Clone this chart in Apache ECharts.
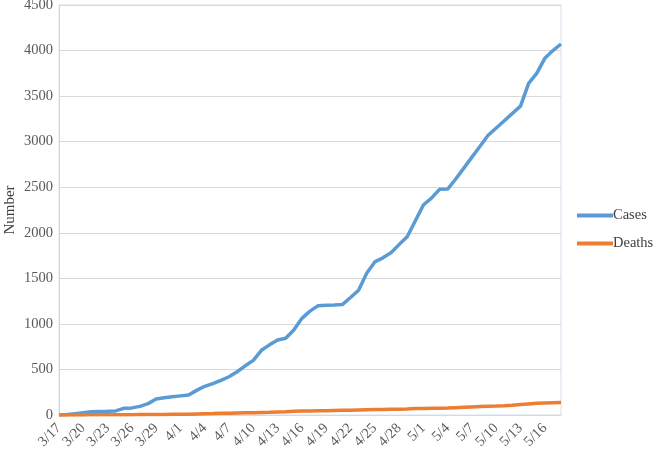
<!DOCTYPE html>
<html>
<head>
<meta charset="utf-8">
<script src="https://cdn.jsdelivr.net/npm/echarts@6/dist/echarts.min.js"></script>
<style>html,body{margin:0;padding:0;background:#fff;}#c{width:654px;height:452px;}</style>
</head>
<body>
<div id="c"></div>
<script>
var dates = ['3/17','3/18','3/19','3/20','3/21','3/22','3/23','3/24','3/25','3/26','3/27','3/28','3/29','3/30','3/31',
 '4/1','4/2','4/3','4/4','4/5','4/6','4/7','4/8','4/9','4/10','4/11','4/12','4/13','4/14','4/15','4/16','4/17','4/18','4/19','4/20','4/21','4/22','4/23','4/24','4/25','4/26','4/27','4/28','4/29','4/30',
 '5/1','5/2','5/3','5/4','5/5','5/6','5/7','5/8','5/9','5/10','5/11','5/12','5/13','5/14','5/15','5/16','5/17','5/18'];
var cases = [0,5,15,25,35,38,40,45,73,78,95,125,175,190,200,
 210,220,270,315,345,380,420,475,540,600,710,770,823,842,933,1061,1140,1200,1205,1208,1212,1290,1370,1555,1680,1725,1780,1870,1957,2130,
 2305,2380,2477,2480,2590,2710,2830,2950,3070,3150,3230,3310,3390,3640,3750,3915,4000,4072];
var deaths = [0,0,1,1,2,2,3,3,4,4,5,5,6,6,7,
 8,9,12,15,16,18,20,22,24,26,28,30,33,36,40,43,45,47,48,50,51,52,55,58,60,61,62,63,66,70,
 72,73,74,76,80,84,88,92,95,98,102,108,115,122,128,133,135,136];
var yTicks = {min: 0, max: 4500, step: 500};

var chart = echarts.init(document.getElementById('c'), null, {renderer: 'canvas'});
var font = '"Liberation Serif", "Times New Roman", serif';
chart.setOption({
  animation: false,
  backgroundColor: '#ffffff',
  textStyle: {fontFamily: font},
  grid: {left: 59, right: 93, top: 5, bottom: 37, show: true, borderColor: '#d3e0f0', borderWidth: 1,
         containLabel: false, outerBoundsMode: 'none'},
  legend: {
    orient: 'vertical', left: 572, top: 203,
    itemWidth: 36, itemHeight: 4, itemGap: 13, icon: 'rect',
    textStyle: {fontFamily: font, fontSize: 14.5, color: '#404040', padding: [0,0,0,-5]},
    data: ['Cases', 'Deaths']
  },
  xAxis: {
    type: 'category', data: dates, boundaryGap: false,
    axisLine: {show: true, lineStyle: {color: '#d9d9d9'}},
    axisTick: {show: false},
    axisLabel: {interval: 2, rotate: 45, fontFamily: font, fontSize: 14.5, color: '#595959', margin: 11}
  },
  yAxis: {
    type: 'value', min: yTicks.min, max: yTicks.max, interval: yTicks.step,
    name: 'Number', nameLocation: 'middle', nameGap: 41, nameRotate: 90, nameMoveOverlap: false,
    nameTextStyle: {fontFamily: font, fontSize: 15, color: '#404040'},
    axisLine: {show: true, lineStyle: {color: '#c9daf0'}},
    axisTick: {show: false},
    axisLabel: {fontFamily: font, fontSize: 14.5, color: '#595959', margin: 6,
                formatter: function (v) { return String(v); }},
    splitLine: {show: true, lineStyle: {color: '#d9d9d9', width: 1}}
  },
  series: [
    {name: 'Cases', type: 'line', data: cases, showSymbol: false, symbol: 'none',
     lineStyle: {color: '#5b9bd5', width: 3.5}, itemStyle: {color: '#5b9bd5'}},
    {name: 'Deaths', type: 'line', data: deaths, showSymbol: false, symbol: 'none',
     lineStyle: {color: '#ed7d31', width: 3.5}, itemStyle: {color: '#ed7d31'}}
  ]
});
</script>
</body>
</html>
